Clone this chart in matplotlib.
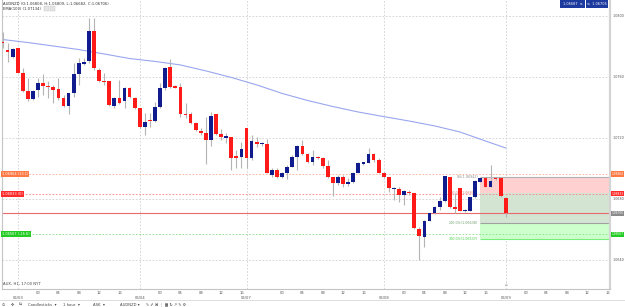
import numpy as np
import matplotlib.pyplot as plt
import matplotlib.transforms as mtransforms
from matplotlib.patches import Rectangle

W, H = 625, 307

# AUDNZD hourly candles, oldest first
opens = [1.07832, 1.07777, 1.07733, 1.07788, 1.07624, 1.07508, 1.07456, 1.07515, 1.07559, 1.07543,
         1.07536, 1.07519, 1.07464, 1.07412, 1.07493, 1.07618, 1.07687, 1.07705, 1.07902, 1.07646,
         1.07576, 1.07574, 1.07410, 1.07460, 1.07445, 1.07530, 1.07464, 1.07395, 1.07270, 1.07318,
         1.07313, 1.07401, 1.07526, 1.07668, 1.07541, 1.07532, 1.07357, 1.07357, 1.07296, 1.07248,
         1.07231, 1.07187, 1.07357, 1.07226, 1.07202, 1.07204, 1.07082, 1.07073, 1.07267, 1.07067,
         1.07172, 1.07159, 1.07160, 1.06957, 1.06990, 1.06942, 1.06968, 1.07012, 1.07077, 1.07147,
         1.07093, 1.07044, 1.07075, 1.07069, 1.07016, 1.06942, 1.06907, 1.06944, 1.06900, 1.06909,
         1.06972, 1.07031, 1.07038, 1.07093, 1.07056, 1.06968, 1.06946, 1.06865, 1.06865, 1.06826,
         1.06848, 1.06837, 1.06603, 1.06548, 1.06657, 1.06710, 1.06745, 1.06789, 1.06942, 1.06745,
         1.06870, 1.06721, 1.06723, 1.06811, 1.06913, 1.06935, 1.06880, 1.06935, 1.06935, 1.06804]
highs = [1.07897, 1.07821, 1.07788, 1.07790, 1.07657, 1.07591, 1.07515, 1.07591, 1.07618, 1.07576,
         1.07548, 1.07591, 1.07482, 1.07497, 1.07690, 1.07723, 1.07723, 1.07986, 1.07986, 1.07657,
         1.07624, 1.07574, 1.07467, 1.07580, 1.07536, 1.07536, 1.07467, 1.07395, 1.07362, 1.07362,
         1.07438, 1.07559, 1.07668, 1.07716, 1.07548, 1.07559, 1.07427, 1.07370, 1.07305, 1.07263,
         1.07336, 1.07372, 1.07357, 1.07257, 1.07231, 1.07204, 1.07121, 1.07176, 1.07267, 1.07220,
         1.07208, 1.07176, 1.07191, 1.07003, 1.07001, 1.06979, 1.07023, 1.07088, 1.07154, 1.07187,
         1.07101, 1.07121, 1.07082, 1.07077, 1.07056, 1.06946, 1.06957, 1.06957, 1.06937, 1.06979,
         1.07044, 1.07044, 1.07132, 1.07099, 1.07067, 1.06979, 1.06946, 1.06880, 1.06880, 1.06859,
         1.06859, 1.06837, 1.06618, 1.06662, 1.06710, 1.06754, 1.06815, 1.06951, 1.06942, 1.06841,
         1.06870, 1.06734, 1.06813, 1.06924, 1.06937, 1.06937, 1.07023, 1.06940, 1.06937, 1.06815]
lows = [1.07790, 1.07700, 1.07723, 1.07624, 1.07504, 1.07443, 1.07449, 1.07471, 1.07482, 1.07460,
        1.07427, 1.07449, 1.07405, 1.07355, 1.07471, 1.07548, 1.07679, 1.07690, 1.07646, 1.07569,
        1.07548, 1.07410, 1.07395, 1.07423, 1.07395, 1.07460, 1.07388, 1.07263, 1.07220, 1.07274,
        1.07307, 1.07395, 1.07515, 1.07526, 1.07526, 1.07340, 1.07329, 1.07292, 1.07246, 1.07220,
        1.07029, 1.07147, 1.07220, 1.07187, 1.07165, 1.06990, 1.07001, 1.07001, 1.07001, 1.07056,
        1.07143, 1.07147, 1.06968, 1.06944, 1.06937, 1.06935, 1.06929, 1.07008, 1.06990, 1.07088,
        1.07038, 1.07023, 1.07062, 1.07003, 1.06937, 1.06819, 1.06892, 1.06880, 1.06885, 1.06903,
        1.06968, 1.07023, 1.07034, 1.07044, 1.06968, 1.06937, 1.06848, 1.06793, 1.06782, 1.06760,
        1.06826, 1.06603, 1.06400, 1.06487, 1.06652, 1.06701, 1.06728, 1.06782, 1.06739, 1.06706,
        1.06718, 1.06714, 1.06721, 1.06806, 1.06908, 1.06875, 1.06875, 1.06924, 1.06811, 1.06684]
closes = [1.07821, 1.07764, 1.07782, 1.07628, 1.07508, 1.07456, 1.07508, 1.07559, 1.07541, 1.07536,
          1.07515, 1.07464, 1.07412, 1.07493, 1.07620, 1.07694, 1.07700, 1.07902, 1.07657, 1.07574,
          1.07565, 1.07416, 1.07460, 1.07427, 1.07530, 1.07467, 1.07395, 1.07270, 1.07307, 1.07311,
          1.07401, 1.07526, 1.07657, 1.07536, 1.07530, 1.07357, 1.07351, 1.07296, 1.07252, 1.07231,
          1.07187, 1.07346, 1.07226, 1.07204, 1.07208, 1.07067, 1.07067, 1.07128, 1.07067, 1.07180,
          1.07159, 1.07165, 1.06972, 1.06990, 1.06946, 1.06972, 1.07008, 1.07077, 1.07147, 1.07093,
          1.07044, 1.07075, 1.07069, 1.07016, 1.06942, 1.06903, 1.06946, 1.06898, 1.06907, 1.06972,
          1.07034, 1.07038, 1.07093, 1.07056, 1.06968, 1.06946, 1.06870, 1.06870, 1.06826, 1.06852,
          1.06837, 1.06607, 1.06557, 1.06657, 1.06706, 1.06745, 1.06789, 1.06951, 1.06745, 1.06734,
          1.06723, 1.06728, 1.06811, 1.06920, 1.06935, 1.06880, 1.06918, 1.06931, 1.06819, 1.06706]

# EMA(100) read at every 5th candle
ema_idx = [0, 5, 10, 15, 20, 25, 30, 35, 40, 45, 50, 55, 60, 65, 70, 75, 80, 85, 90, 95, 99]
ema_val = [1.07846, 1.07826, 1.07803, 1.07780, 1.07751, 1.07721, 1.07702, 1.07679, 1.07640, 1.07597,
           1.07548, 1.07492, 1.07446, 1.07406, 1.07370, 1.07340, 1.07311, 1.07279, 1.07239, 1.07180,
           1.07134]

hour_ticks = [7, 11, 15, 19, 23, 31, 35, 39, 43, 47, 55, 59, 63, 67, 71,
              79, 83, 87, 91, 95, 103, 107, 111, 115, 119]
hour_labels = ["00", "04", "08", "12", "16"] * 5
day_ticks = [3, 27, 48, 75, 99]
day_labels = ["06/03", "06/04", "06/07", "06/08", "06/09"]
price_ticks = [1.0640, 1.0680, 1.0720, 1.0760, 1.0800]

# position tool / order levels
stop_level = 1.06964
entry_level = 1.06833
last_price = 1.06706
target_level = 1.06567
zone_start = 94
zone_pink = (1.06837, 1.06942)
zone_gray = (1.06642, 1.06837)
zone_lime = (1.06535, 1.06642)
zone_texts = [("0%(1.06942)", 1.06942, "#909090"),
              ("100.0%(1.06835)", 1.06837, "#e07070"),
              ("200.0%(1.06638)", 1.06642, "#70a070"),
              ("300.0%(1.06537)", 1.06535, "#40d040")]

BLUE = "#101c8e"
RED = "#ff1a1a"
FS = 2.7
plt.rcParams["font.family"] = ["DejaVu Sans", "Noto Sans CJK SC"]

fig = plt.figure(figsize=(W / 100, H / 100), dpi=100)
fig.patch.set_facecolor("white")
ax = fig.add_axes([2 / W, 18 / H, 608 / W, 289 / H])
ax.set_xlim(-0.1, 119.5)
ax.set_ylim(1.06209, 1.08105)
ax.set_xticks([])
ax.set_yticks([])
ax.spines["top"].set_visible(False)
for s in ["left", "bottom"]:
    ax.spines[s].set_color("#c4c4c4")
    ax.spines[s].set_linewidth(0.8)
ax.spines["right"].set_color("#d4d4d4")
ax.spines["right"].set_linewidth(1.6)

grid_kw = dict(color="#cfcfcf", lw=0.6, ls=(0, (2, 2)), zorder=0)
for p in price_ticks:
    ax.axhline(p, **grid_kw)
for d in day_ticks:
    ax.axvline(d, **grid_kw)

# zones of the position tool
for (lo, hi), col in zip([zone_pink, zone_gray, zone_lime], ["#ffd0d0", "#d3e4d3", "#ccffcc"]):
    ax.add_patch(Rectangle((zone_start, lo), 100, hi - lo, fc=col, ec="none", zorder=1))
ax.hlines(zone_pink[1] + 0.00003, zone_start, 130, color="#b0b0b0", lw=0.8, zorder=1.5)
ax.hlines(zone_gray[0], zone_start, 130, color="#a0a0a0", lw=0.8, zorder=1.5)
ax.hlines(zone_lime[0], zone_start, 130, color="#77ee77", lw=0.8, zorder=1.5)
for txt, lvl, col in zone_texts:
    ax.text(zone_start - 0.4, lvl, txt, ha="right", va="center", fontsize=FS - 0.3, color=col, zorder=1.6)

# order lines
ax.axhline(stop_level, color="#ffab90", lw=0.6, ls=(0, (2, 2)), zorder=1.7)
ax.axhline(entry_level, color="#ff8080", lw=0.6, ls=(0, (2, 2)), zorder=1.7)
ax.axhline(target_level, color="#88e088", lw=0.6, ls=(0, (2, 2)), zorder=1.7)
ax.axhline(last_price, color="#e86a6a", lw=0.8, zorder=1.7)

# ema
ax.plot(ema_idx, ema_val, color="#9aa6ee", lw=0.8, zorder=2)

# candles
o = np.array(opens)
h = np.array(highs)
l = np.array(lows)
c = np.array(closes)
idx = np.arange(len(o))
ax.vlines(idx, l, h, color="#b4b4b4", lw=0.8, zorder=3)
cols = [BLUE if cc >= oo else RED for oo, cc in zip(o, c)]
ax.bar(idx, np.maximum(np.abs(c - o), 0.00008), bottom=np.minimum(o, c), width=0.74,
       color=cols, linewidth=0, zorder=4)

# right price axis labels
right = mtransforms.blended_transform_factory(ax.transAxes, ax.transData)
for p in price_ticks:
    ax.text(1.004, p, f"{p:.4f}", transform=right, ha="left", va="center",
            fontsize=FS - 0.3, color="#555555", clip_on=False)
for lvl, col in [(stop_level, "#ff7a45"), (entry_level, "#ff2a2a"),
                 (last_price, "#8a8a8a"), (target_level, "#22cc22")]:
    ax.text(1.0025, lvl, f"{lvl:.5f}", transform=right, ha="left", va="center",
            fontsize=2.1, color="white", clip_on=False, zorder=6,
            bbox=dict(boxstyle="square,pad=0.2", fc=col, ec="none"))

# left order labels
for lvl, col, txt in [(stop_level, "#ff7a45", "1.06964 (13.1)"),
                      (entry_level, "#ff2a2a", "1.06833 (0)"),
                      (target_level, "#22cc22", "1.06567 (-26.6)")]:
    ax.text(0.0, lvl, txt, transform=right, ha="left", va="center",
            fontsize=FS - 0.2, color="white", zorder=6,
            bbox=dict(boxstyle="square,pad=0.3", fc=col, ec="none"))

# bottom time axis
bottom = mtransforms.blended_transform_factory(ax.transData, ax.transAxes)
for t, lab in zip(hour_ticks, hour_labels):
    ax.text(t, -0.0128, lab, transform=bottom, ha="center", va="center",
            fontsize=FS, color="#555555", clip_on=False)
for t, lab in zip(day_ticks, day_labels):
    ax.text(t, -0.0295, lab, transform=bottom, ha="center", va="center",
            fontsize=FS, color="#555555", clip_on=False)
ax.text(0.002, 0.01, "AUX, H1, 17:00 NYT", transform=ax.transAxes, ha="left", va="bottom",
        fontsize=FS, color="#444444")
ax.text(99, 0.006, "⌂", transform=bottom, ha="center", va="bottom", fontsize=3, color="#999999")


def fx(x):
    return x / W


def fy(y):
    return 1 - y / H


# header
fig.text(fx(3), fy(4), "AUDNZD (O:1.06808, H:1.06809, L:1.06682, C:1.06706)",
         fontsize=FS, color="#333333", va="center")
fig.text(fx(3), fy(8.5), "EMA(100) (1.07134)", fontsize=FS, color="#333333", va="center")
for x0 in [44, 50]:
    fig.add_artist(Rectangle((fx(x0), fy(11)), fx(5), 5 / H, transform=fig.transFigure,
                             fc="#e4e4e4", ec="#c8c8c8", lw=0.3))

# top-right buttons
for x0, x1, txt in [(560, 585, "1.06687  ⇅"), (586, 608, "⇅  1.06706")]:
    fig.add_artist(Rectangle((fx(x0), fy(7.5)), fx(x1 - x0), 7.5 / H, transform=fig.transFigure,
                             fc="#1d3a9e", ec="none"))
    fig.text(fx((x0 + x1) / 2), fy(3.8), txt, fontsize=FS - 0.2, color="white",
             ha="center", va="center")

# toolbar
fig.add_artist(plt.Line2D([0, 1], [fy(300), fy(300)], transform=fig.transFigure,
                          color="#d8d8d8", lw=0.6))
for x0, txt in [(2, "⊙"), (11, "✥"), (19, "⇆"), (28, "Candlesticks  ▾"), (63, "1 hour  ▾"),
                (93, "ASK  ▾"), (120, "AUDNZD ▾"), (146, "✎ ✐ ⌘ ⋮ ▦ ↻ ↗ ✎ ⚙")]:
    fig.text(fx(x0), fy(304.5), txt, fontsize=FS, color="#444444", va="center")

fig.savefig("out.png", dpi=100)
